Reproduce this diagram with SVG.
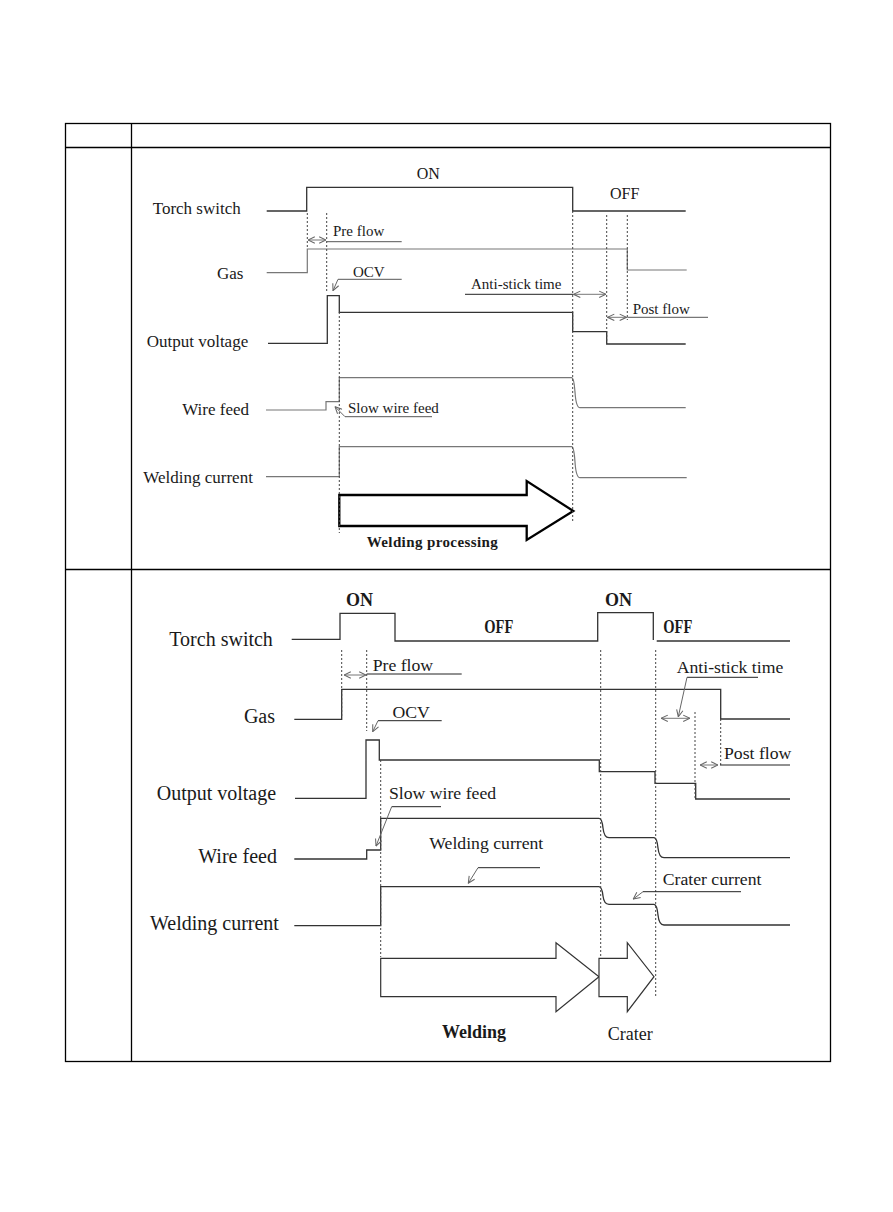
<svg xmlns="http://www.w3.org/2000/svg" width="893" height="1212" viewBox="0 0 893 1212">
<style>
text{font-family:"Liberation Serif","Times New Roman",serif;fill:#1a1a1a}
.lt{font-size:17px}
.lb{font-size:20px}
.st{font-size:15px}
.sb{font-size:17.7px}
.bold{font-weight:bold}
.frame{fill:none;stroke:#000;stroke-width:1.3}
.sig{fill:none;stroke:#333;stroke-width:1.3}
.sigg{fill:none;stroke:#777;stroke-width:1.2}
.dot{fill:none;stroke:#444;stroke-width:1;stroke-dasharray:2 2}
.lead{fill:none;stroke:#555;stroke-width:1}
.dbl{fill:none;stroke:#777;stroke-width:1;marker-start:url(#ah);marker-end:url(#ah)}
.arr{fill:none;stroke:#666;stroke-width:1;marker-end:url(#ah)}
</style>
<defs>
<marker id="ah" viewBox="0 0 10 10" refX="9.5" refY="5" markerWidth="8" markerHeight="8" markerUnits="userSpaceOnUse" orient="auto-start-reverse">
<path d="M1,1 L9.5,5 L1,9" fill="none" stroke="#666" stroke-width="1.3"/>
</marker>
</defs>
<rect width="893" height="1212" fill="#fff"/>
<g id="table">
<rect class="frame" x="65.5" y="123.5" width="765" height="938"/>
<line class="frame" x1="131.5" y1="123.5" x2="131.5" y2="1061.5"/>
<line class="frame" x1="65.5" y1="147.5" x2="830.5" y2="147.5"/>
<line class="frame" x1="65.5" y1="569.5" x2="830.5" y2="569.5"/>
</g>

<!-- ===== Top chart ===== -->
<g id="top-labels">
<text class="lt" x="152.7" y="214">Torch switch</text>
<text class="lt" x="243.5" y="279" text-anchor="end">Gas</text>
<text class="lt" x="146.7" y="347">Output voltage</text>
<text class="lt" x="249" y="415" text-anchor="end">Wire feed</text>
<text class="lt" x="143.3" y="483">Welding current</text>
<text class="st" x="416.7" y="179" style="font-size:16px">ON</text>
<text class="st" x="610" y="199" style="font-size:16px">OFF</text>
<text class="st" x="333" y="236">Pre flow</text>
<text class="st" x="353" y="277">OCV</text>
<text class="st" x="471" y="289">Anti-stick time</text>
<text class="st" x="632.7" y="314">Post flow</text>
<text class="st" x="348" y="413">Slow wire feed</text>
<text class="st bold" x="366.7" y="547" textLength="131" lengthAdjust="spacing">Welding processing</text>
</g>
<g id="top-signals">
<path id="top-torch" class="sig" d="M266.7,211 H306.7 V187.3 H572.7 V211 H685.7"/>
<path id="top-gas" class="sigg" d="M266.7,272.7 H307.3 V249 H627.3 V270 H686.7"/>
<path id="top-output" class="sig" d="M268,343.3 H327.3 V295.7 H339.3 V312.3 H572.7 V331.7 H606.7 V344 H685.7"/>
<path id="top-wire" class="sigg" d="M266,410 H326 V401.7 H339.3 V377.7 H571.7 Q574,378 575,392 Q576,407.7 580,407.7 H685.7"/>
<path id="top-current" class="sigg" d="M266,476.7 H339.3 V446.7 H571.7 Q574,447 575,462 Q576,477.7 580,477.7 H686.7"/>
<polygon id="top-process-arrow" points="339.3,495 526.7,495 526.7,481 573.3,511 526.7,540 526.7,526 339.3,526" fill="#fff" stroke="#000" stroke-width="2.3"/>
</g>
<g id="top-connectors">
<line class="dot" x1="307.3" y1="213" x2="307.3" y2="247"/>
<line class="dot" x1="326.7" y1="213" x2="326.7" y2="293"/>
<line class="dot" x1="339.3" y1="312" x2="339.3" y2="533"/>
<line class="dot" x1="572.7" y1="211" x2="572.7" y2="522"/>
<line class="dot" x1="606.7" y1="215" x2="606.7" y2="344"/>
<line class="dot" x1="627.3" y1="215" x2="627.3" y2="320"/>
<line class="dbl" x1="308" y1="240" x2="326" y2="240"/>
<line class="lead" x1="326.7" y1="241.7" x2="401.7" y2="241.7"/>
<line class="lead" x1="338" y1="279.3" x2="401.7" y2="279.3"/>
<line class="arr" x1="338" y1="279.3" x2="333" y2="290.7"/>
<line class="lead" x1="465" y1="294.3" x2="573" y2="294.3" style="stroke:#222"/>
<line class="dbl" x1="573.5" y1="294.3" x2="606" y2="294.3"/>
<line class="lead" x1="627.3" y1="317.3" x2="708" y2="317.3"/>
<line class="dbl" x1="607.5" y1="317.3" x2="626.5" y2="317.3"/>
<polyline class="lead" points="432,416.7 345,416.7"/>
<line class="arr" x1="345" y1="416.7" x2="335" y2="406.7"/>
</g>

<!-- ===== Bottom chart ===== -->
<g id="bottom-labels">
<text class="lb" x="169.3" y="646">Torch switch</text>
<text class="lb" x="275" y="723" text-anchor="end">Gas</text>
<text class="lb" x="156.7" y="800">Output voltage</text>
<text class="lb" x="198.3" y="863">Wire feed</text>
<text class="lb" x="150" y="930">Welding current</text>
<text class="bold" x="346" y="605.5" style="font-size:18px">ON</text>
<text class="bold" x="605" y="605.5" style="font-size:18px">ON</text>
<text class="bold" x="484.3" y="633.3" style="font-size:18px" textLength="29" lengthAdjust="spacingAndGlyphs">OFF</text>
<text class="bold" x="663.3" y="633.3" style="font-size:18px" textLength="29" lengthAdjust="spacingAndGlyphs">OFF</text>
<text class="sb" x="372.7" y="670.5">Pre flow</text>
<text class="sb" x="392.5" y="718">OCV</text>
<text class="sb" x="676.7" y="673">Anti-stick time</text>
<text class="sb" x="724" y="759">Post flow</text>
<text class="sb" x="389" y="799">Slow wire feed</text>
<text class="sb" x="429.3" y="849">Welding current</text>
<text class="sb" x="662.7" y="885">Crater current</text>
<text class="bold" x="442" y="1038" style="font-size:18px">Welding</text>
<text x="607.7" y="1040" style="font-size:18px">Crater</text>
</g>
<g id="bottom-signals">
<path id="bot-torch" class="sig" d="M291.7,639.3 H340 V613.3 H395 V641 H597.7 V612.7 H653.3 V640 M656.7,641 H790"/>
<path id="bot-gas" class="sig" d="M294.3,719.3 H341.7 V689.3 H720.7 V719 H790"/>
<path id="bot-output" class="sig" d="M295,798.3 H366 V740 H379.3 V760 H599.3 V771.7 H655 V783.3 H695.7 V799 H790"/>
<path id="bot-wire" class="sig" d="M294.3,859 H366.7 V850 H380.7 V818.3 H599 Q602,818.3 603,828 Q604,837.7 609,837.7 H654 Q657,838 658,848 Q659,857.7 664,857.7 H790"/>
<path id="bot-current" class="sig" d="M294.3,925.7 H380.7 V886.7 H599 Q602,887 603,896 Q604,904.3 609,904.3 H654 Q657,904.5 658,915 Q659,925 664,925 H790"/>
<polygon id="bot-welding-arrow" points="380.7,958.3 556,958.3 556,942.7 599,976.7 556,1011.7 556,996.7 380.7,996.7" fill="#fff" stroke="#333" stroke-width="1.2"/>
<polygon id="bot-crater-arrow" points="599,958.3 627.3,958.3 627.3,942.7 654,976.7 627.3,1011.7 627.3,996.7 599,996.7" fill="#fff" stroke="#333" stroke-width="1.2"/>
</g>
<g id="bottom-connectors">
<line class="dot" x1="341.7" y1="650" x2="341.7" y2="718"/>
<line class="dot" x1="366.7" y1="650" x2="366.7" y2="731"/>
<line class="dot" x1="380.7" y1="760" x2="380.7" y2="957"/>
<line class="dot" x1="600.7" y1="650" x2="600.7" y2="957"/>
<line class="dot" x1="655.7" y1="650" x2="655.7" y2="997"/>
<line class="dot" x1="695" y1="712" x2="695" y2="799"/>
<line class="dot" x1="720.7" y1="719" x2="720.7" y2="767"/>
<line class="dbl" x1="344" y1="675" x2="366" y2="675"/>
<line class="lead" x1="366.7" y1="674" x2="461.7" y2="674" style="stroke:#222"/>
<line class="lead" x1="378" y1="720.7" x2="441.7" y2="720.7" style="stroke:#222"/>
<line class="arr" x1="378" y1="720.7" x2="372.7" y2="731.7"/>
<line class="lead" x1="391.7" y1="806.7" x2="441" y2="806.7" style="stroke:#222"/>
<line class="arr" x1="391.7" y1="806.7" x2="376" y2="846"/>
<line class="lead" x1="478" y1="867.7" x2="540" y2="867.7" style="stroke:#222"/>
<line class="arr" x1="478" y1="867.7" x2="468.3" y2="883.3"/>
<line class="lead" x1="643" y1="891.7" x2="741" y2="891.7" style="stroke:#222"/>
<line class="arr" x1="643" y1="891.7" x2="633.3" y2="899"/>
<line class="lead" x1="687" y1="677.3" x2="758" y2="677.3" style="stroke:#222"/>
<line class="arr" x1="687" y1="677.3" x2="678.3" y2="716.7"/>
<line class="dbl" x1="661" y1="718.3" x2="690" y2="718.3"/>
<line class="lead" x1="720" y1="765" x2="790" y2="765" style="stroke:#222"/>
<line class="dbl" x1="700" y1="765" x2="718" y2="765"/>
</g>
</svg>
